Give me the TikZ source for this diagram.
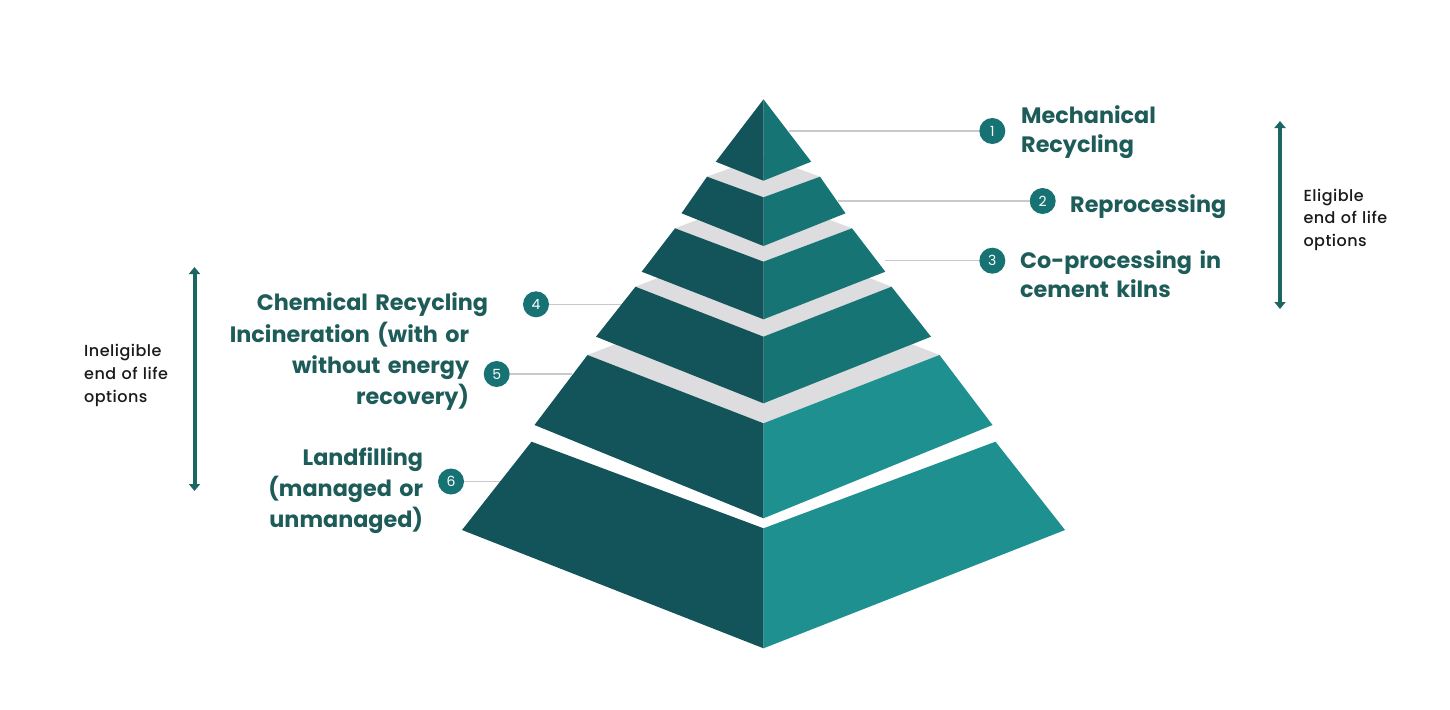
\documentclass[tikz,border=0pt]{standalone}
\usepackage{fontspec}
\setmainfont{Poppins}
\newfontfamily\sidefont{Poppins Medium}[LetterSpace=3]
\usetikzlibrary{arrows.meta}
\definecolor{leftface}{HTML}{13545A}
\definecolor{rightup}{HTML}{177474}
\definecolor{rightlow}{HTML}{1E9090}
\definecolor{topface}{HTML}{DDDCDF}
\definecolor{leader}{HTML}{C9C9CC}
\definecolor{badge}{HTML}{177373}
\definecolor{labelcol}{HTML}{1D5C59}
\definecolor{arrowcol}{HTML}{1B6563}
\definecolor{sidecol}{HTML}{1A1A1A}
\tikzset{
  leaderline/.style={draw=leader,line width=1.5pt},
  badgenode/.style={circle,fill=badge,minimum size=26pt,inner sep=0pt,text=white,font=\fontsize{14}{14}\selectfont},
  labelR/.style={anchor=base west,inner sep=0pt,text width=260pt,align=left,text=labelcol,font=\bfseries\fontsize{22.3}{29}\selectfont},
  labelL/.style={anchor=base east,inner sep=0pt,text width=300pt,align=right,text=labelcol,font=\bfseries\fontsize{22.3}{31}\selectfont},
  sidetext/.style={anchor=base west,inner sep=0pt,text width=120pt,align=left,text=sidecol,font=\sidefont\fontsize{16}{22.7}\selectfont},
  rangearrow/.style={draw=arrowcol,line width=4pt,{Triangle[width=11pt,length=7pt]}-{Triangle[width=11pt,length=7pt]}},
}
\begin{document}
\begin{tikzpicture}[x=1pt,y=-1pt]
\useasboundingbox (0,0) rectangle (1450,709);
\fill[white] (0,0) rectangle (1450,709);
\def\cx{763.5}
% leader line endpoints on the pyramid edges
\coordinate (e1) at (789,131);
\coordinate (e2) at (838,201);
\coordinate (e3) at (885,260.7);
\coordinate (e4) at (622,304.3);
\coordinate (e5) at (572,374);
\coordinate (e6) at (502,481.5);
% badges
\node[badgenode] (b1) at (992.3,131) {1};
\node[badgenode] (b2) at (1042.7,201) {2};
\node[badgenode] (b3) at (992.3,260.7) {3};
\node[badgenode] (b4) at (536,304.3) {4};
\node[badgenode] (b5) at (496.7,374) {5};
\node[badgenode] (b6) at (451,481.5) {6};
\draw[leaderline] (e1) -- (b1);
\draw[leaderline] (e2) -- (b2);
\draw[leaderline] (e3) -- (b3);
\draw[leaderline] (e4) -- (b4);
\draw[leaderline] (e5) -- (b5);
\draw[leaderline] (e6) -- (b6);
% tier macro: #1 top y, #2 top half width, #3 front top y, #4 bottom y, #5 bottom half width, #6 front bottom y, #7 right colour, #8 top face colour
\newcommand{\tier}[8]{%
  \fill[#8] (\cx-#2,#1) -- (\cx,#3) -- (\cx+#2,#1) -- (\cx,{2*#1-#3}) -- cycle;
  \fill[leftface] (\cx-#2,#1) -- (\cx,#3) -- (\cx,#6) -- (\cx-#5,#4) -- cycle;
  \fill[#7] (\cx+#2,#1) -- (\cx,#3) -- (\cx,#6) -- (\cx+#5,#4) -- cycle;
}
\tier{441.7}{232}{528.3}{530}{301.5}{648.3}{rightlow}{white}
\tier{355}{176}{423.3}{425}{229}{518.3}{rightlow}{topface}
\tier{286.7}{128}{336.7}{336.7}{167.5}{403.3}{rightup}{topface}
\tier{228.3}{88.5}{261.7}{271.7}{121.8}{319.3}{rightup}{topface}
\tier{176.7}{56.5}{197.3}{213.3}{82}{246}{rightup}{topface}
% apex
\fill[leftface] (\cx,99.3) -- (\cx-47.7,161.7) -- (\cx,180.7) -- cycle;
\fill[rightup] (\cx,99.3) -- (\cx+47.7,161.7) -- (\cx,180.7) -- cycle;
% labels
\node[labelR] (l1) at (1021,123.3) {Mechanical\\Recycling};
\node[labelR] (l2) at (1070,212.3) {Reprocessing};
\node[labelR] (l3) at (1020,268.3) {Co-processing in\\cement kilns};
\node[labelL] (l4) at (488.3,310) {Chemical Recycling};
\node[labelL] (l5) at (469.3,342.3) {Incineration (with or\\without energy\\recovery)};
\node[labelL] (l6) at (423.3,465) {Landfilling\\(managed or\\unmanaged)};
% side ranges
\node[sidetext] (s1) at (1303.3,201) {Eligible\\end of life\\options};
\node[sidetext] (s2) at (84,356.7) {Ineligible\\end of life\\options};
\coordinate (r1t) at (1280,121);
\coordinate (r1b) at (1280,309);
\coordinate (r2t) at (194.5,267);
\coordinate (r2b) at (194.5,491);
\draw[rangearrow] (r1t) -- (r1b);
\draw[rangearrow] (r2t) -- (r2b);
\end{tikzpicture}
\end{document}
